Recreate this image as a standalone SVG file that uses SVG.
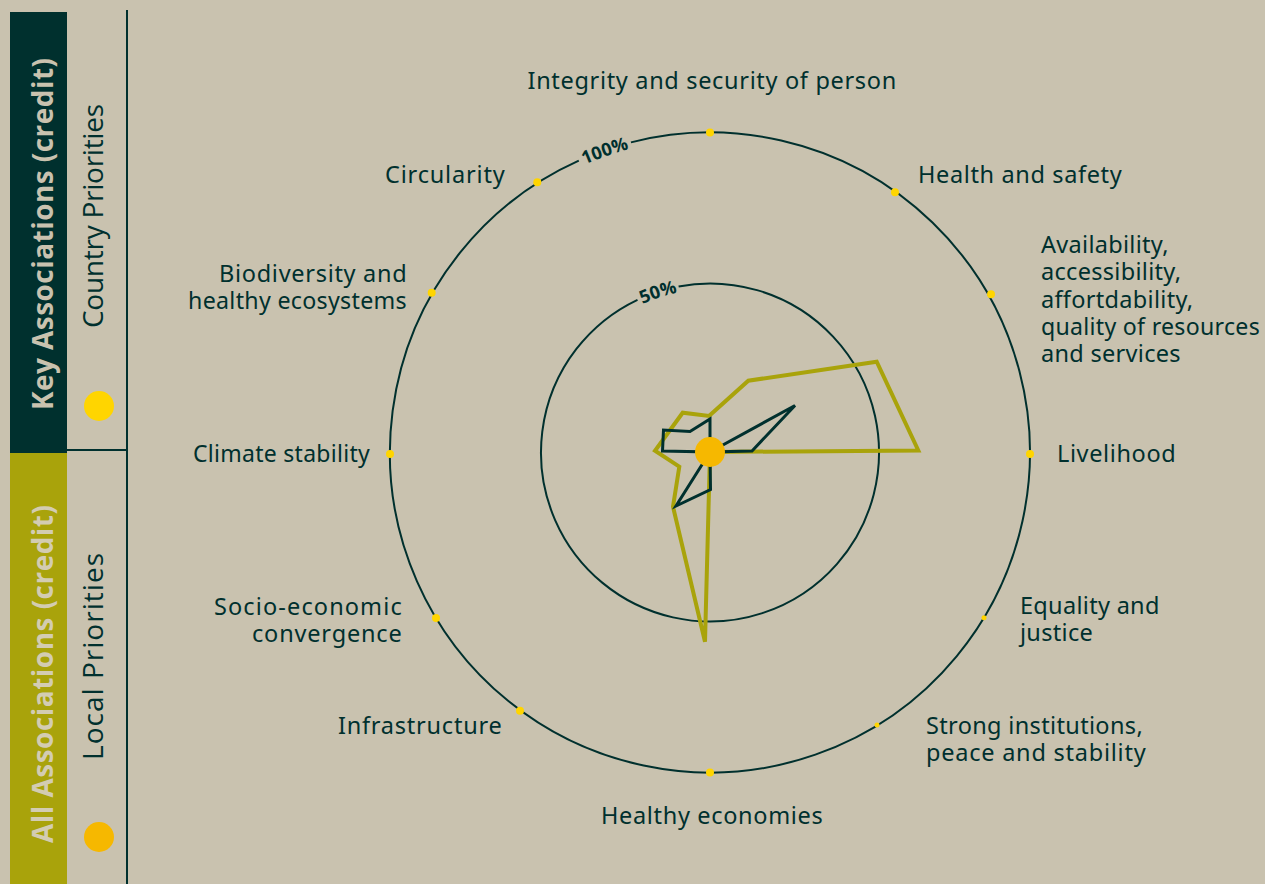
<svg xmlns="http://www.w3.org/2000/svg" width="1265" height="884" viewBox="0 0 1265 884">
<defs>
<style>
.lbl{font-family:"Noto Sans","Open Sans",sans-serif;font-size:23.5px;letter-spacing:0.3px;fill:#00302e}
.end{text-anchor:end}
.mid{text-anchor:middle}
.ring{fill:none;stroke:#00302e;stroke-width:2}
.pct{font-family:"Open Sans","Noto Sans",sans-serif;font-weight:bold;font-size:18px;fill:#00302e}
.dot{fill:#ffd500}
.side{font-family:"Open Sans","Noto Sans",sans-serif;font-weight:bold;font-size:28px}
.sub{font-family:"Open Sans","Noto Sans",sans-serif;font-size:28px;fill:#00302e}
</style>
<path id="arcOuter" d="M533.3,192.9 A314,314 0 0 1 686.7,139.4"/>
<path id="arcInner" d="M621.2,315.8 A163,163 0 0 1 701.5,289.7"/>
</defs>
<rect width="1265" height="884" fill="#c9c2af"/>
<g id="sidebar">
<rect x="10" y="12" width="57" height="441" fill="#00302e"/>
<rect x="10" y="453" width="57" height="431" fill="#a9a30b"/>
<line x1="127" y1="10" x2="127" y2="884" stroke="#00302e" stroke-width="2"/>
<line x1="67" y1="450" x2="127" y2="450" stroke="#00302e" stroke-width="2"/>
<text class="side" fill="#c9c2af" transform="translate(53,410) rotate(-90)" textLength="352" lengthAdjust="spacing">Key Associations (credit)</text>
<text class="side" fill="#d3ccb2" transform="translate(53,843) rotate(-90)" textLength="338" lengthAdjust="spacing">All Associations (credit)</text>
<text class="sub" transform="translate(103,328) rotate(-90)" textLength="224" lengthAdjust="spacing">Country Priorities</text>
<text class="sub" transform="translate(103,760) rotate(-90)" textLength="207" lengthAdjust="spacing">Local Priorities</text>
<circle cx="99" cy="406" r="15" fill="#ffd500"/>
<circle cx="99" cy="837" r="15" fill="#f6b800"/>
</g>
<g id="rings">
<path class="ring" d="M630.95,142.4 A320,320 0 1 1 578.8,160.6"/>
<path class="ring" d="M678.6,286.4 A169,169 0 1 1 637.5,299.8"/>
<text class="pct"><textPath href="#arcOuter" startOffset="50%" text-anchor="middle">100%</textPath></text>
<text class="pct"><textPath href="#arcInner" startOffset="50%" text-anchor="middle">50%</textPath></text>
</g>
<g id="series">
<path d="M709,416 L748.3,380.7 L876.7,361.7 L918.3,450.5 L710,452 L705,641.7 L673,506.7 L679.3,466.7 L655,450.7 L682.7,412.7 Z" fill="none" stroke="#a9a30b" stroke-width="4" stroke-linejoin="miter"/>
<path d="M710,419 L710,452 L795,405.5 L752,451 L710,452 L710.5,489.5 L676,506 L710,452 L662.5,451 L663.5,430 L690,431.5 Z" fill="none" stroke="#00302e" stroke-width="3" stroke-linejoin="miter"/>
<circle cx="710" cy="452" r="15" fill="#f6b800"/>
</g>
<g id="axes">
<circle class="dot" cx="710" cy="132.5" r="4"/>
<circle class="dot" cx="895" cy="192.3" r="4"/>
<circle class="dot" cx="991" cy="294.3" r="4"/>
<circle class="dot" cx="1030" cy="454" r="4"/>
<circle class="dot" cx="984" cy="617.7" r="2.5"/>
<circle class="dot" cx="877" cy="725" r="2.5"/>
<circle class="dot" cx="710" cy="772.5" r="4"/>
<circle class="dot" cx="520" cy="710.7" r="4"/>
<circle class="dot" cx="436" cy="618" r="4"/>
<circle class="dot" cx="390" cy="454" r="4"/>
<circle class="dot" cx="431.7" cy="292.7" r="4"/>
<circle class="dot" cx="537.3" cy="182.3" r="4"/>
</g>
<g id="labels">
<text class="lbl mid" x="712" y="89" textLength="369" lengthAdjust="spacing">Integrity and security of person</text>
<text class="lbl" x="918" y="183" textLength="204" lengthAdjust="spacing">Health and safety</text>
<text class="lbl" x="1041" y="253">Availability,</text>
<text class="lbl" x="1041" y="280">accessibility,</text>
<text class="lbl" x="1041" y="308">affortdability,</text>
<text class="lbl" x="1041" y="335" textLength="219" lengthAdjust="spacingAndGlyphs">quality of resources</text>
<text class="lbl" x="1041" y="362">and services</text>
<text class="lbl" x="1057" y="462" textLength="119" lengthAdjust="spacing">Livelihood</text>
<text class="lbl" x="1020" y="614">Equality and</text>
<text class="lbl" x="1020" y="641">justice</text>
<text class="lbl" x="926" y="734" textLength="217" lengthAdjust="spacing">Strong institutions,</text>
<text class="lbl" x="926" y="761" textLength="220" lengthAdjust="spacing">peace and stability</text>
<text class="lbl mid" x="712" y="824" textLength="222" lengthAdjust="spacing">Healthy economies</text>
<text class="lbl end" x="502" y="734" textLength="164" lengthAdjust="spacing">Infrastructure</text>
<text class="lbl end" x="402" y="615" textLength="188" lengthAdjust="spacing">Socio-economic</text>
<text class="lbl end" x="402" y="642" textLength="150" lengthAdjust="spacing">convergence</text>
<text class="lbl end" x="370" y="462" textLength="177" lengthAdjust="spacingAndGlyphs">Climate stability</text>
<text class="lbl end" x="407" y="282" textLength="188" lengthAdjust="spacing">Biodiversity and</text>
<text class="lbl end" x="407" y="309" textLength="219" lengthAdjust="spacingAndGlyphs">healthy ecosystems</text>
<text class="lbl end" x="505" y="183" textLength="120" lengthAdjust="spacing">Circularity</text>
</g>
</svg>
